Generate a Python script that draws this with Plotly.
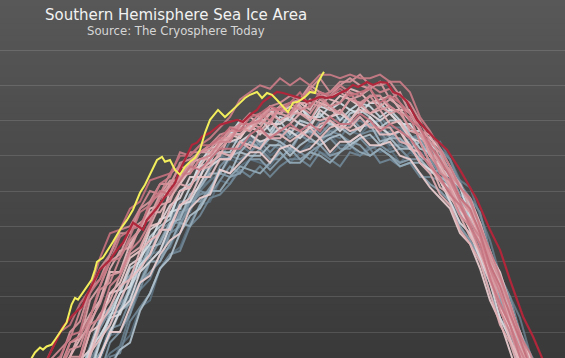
import plotly.graph_objects as go

# ---- data: Southern Hemisphere sea ice area (million km^2) ----
# common day grid (day of year, continuing past 365 into January)
DAYS = list(range(110, 380, 5))

a1979 = [3.2,3.5,4.0,4.7,4.8,5.5,5.8,6.3,7.2,7.9,8.0, 8.6,9.4,9.6,10.2,10.4,11.0,11.6,11.9,12.0, 12.5,12.9,12.8,13.1,13.3,13.0,13.2,13.3,13.1,13.4,13.4,13.6,13.3,13.3,13.5,13.5,13.6,13.2,13.3, 13.2,13.0,13.3, 13.1,12.9,12.1,11.8,11.1,10.2,9.7,8.8,7.9,7.4,6.6,6.0]
a1980 = [2.4,3.0,3.2,3.9,4.2,4.6,5.3,5.7,6.5,7.0,7.6, 7.9,8.7,8.9,9.8,10.2,10.4,11.1,11.6,11.7, 12.3,12.2,12.7,12.9,12.8,12.7,13.1,12.8,13.1,13.3,13.1,13.0,13.3,13.3,13.0,13.3,13.1,13.2,12.8, 13.1,12.9,13.2, 12.9,12.4,12.2,11.5,10.7,10.2,9.3,8.7,7.7,7.2,6.4,5.7]
a1981 = [3.6,4.0,4.3,5.0,5.5,5.7,6.3,6.9,7.3,8.2,8.7, 9.0,9.4,10.2,10.3,11.0,11.5,11.4,12.1,12.3, 12.5,13.0,13.3,13.1,13.4,13.3,13.2,13.6,13.6,13.4,13.4,13.7,13.8,13.7,13.6,13.9,13.4,13.6,13.4, 13.4,12.9,12.9, 12.4,12.2,11.6,11.3,10.4,9.7,9.0,8.0,7.4,6.8,5.9,5.3]
a1982 = [2.7,3.4,3.7,4.4,4.5,5.1,5.6,6.1,7.0,7.4,7.6, 8.5,9.2,9.5,10.2,10.4,11.2,11.7,12.0,12.3, 13.0,12.9,13.2,13.5,13.2,13.5,13.5,13.7,13.5,13.7,13.9,13.6,13.5,13.9,14.0,13.8,13.6,13.7,13.3, 13.5,13.6,13.3, 13.4,12.9,12.3,12.1,11.3,10.6,9.6,9.0,8.4,7.4,6.9,6.1]
a1983 = [3.8,4.5,4.6,5.2,5.7,6.0,6.7,7.2,7.7,8.5,8.8, 9.1,9.9,10.3,10.9,11.1,11.7,11.7,12.5,12.7, 12.9,13.4,13.4,13.3,13.7,13.8,13.6,13.7,14.0,13.6,14.0,13.9,14.1,13.9,14.1,13.8,14.1,13.8,13.8, 13.5,13.6,13.2, 12.9,12.7,12.3,11.5,11.0,10.3,9.2,8.8,7.9,7.4,6.4,5.8]
a1984 = [2.7,3.0,3.7,4.0,4.3,5.0,5.3,6.2,6.5,7.3,7.4, 8.3,8.7,9.1,9.8,10.2,10.3,11.0,11.3,11.8, 11.9,12.2,12.6,12.4,12.7,12.4,12.7,12.9,12.9,12.7,13.1,12.9,12.7,13.1,13.0,13.2,12.8,12.9,12.7, 12.8,12.4,12.4, 12.3,11.7,11.3,11.0,10.1,9.4,8.7,7.8,7.2,6.4,5.6,5.0]
a1985 = [3.2,3.8,4.3,4.6,5.3,5.6,5.8,6.8,7.3,8.1,8.2, 8.9,9.2,10.0,10.3,10.8,11.0,11.7,11.9,12.0, 12.7,13.0,12.9,13.1,13.4,13.1,13.4,13.1,13.6,13.4,13.4,13.7,13.6,13.4,13.6,13.7,13.7,13.3,13.3, 13.2,13.4,13.5, 13.2,12.9,12.2,11.8,11.4,10.3,9.6,9.0,8.0,7.4,6.8,6.0]
a1986 = [4.2,4.4,4.9,5.5,5.6,6.4,6.9,7.3,8.1,8.6,8.8, 9.6,10.0,10.1,10.6,11.1,11.1,11.5,12.0,11.9, 12.3,12.7,12.5,12.9,13.2,12.9,12.9,13.2,13.1,12.9,13.3,13.5,13.2,13.2,13.5,13.2,13.3,13.1,13.2, 12.9,12.9,12.9, 12.5,12.4,11.7,11.1,10.7,9.8,8.9,8.5,7.5,6.7,6.2,5.4]
a1987 = [3.0,3.6,3.8,4.6,4.8,5.2,5.8,6.6,6.8,7.7,8.0, 8.5,9.4,9.7,10.0,10.8,11.4,11.5,12.1,12.6, 13.1,13.0,13.3,13.6,13.3,13.6,13.8,13.5,13.7,13.9,13.6,13.9,13.8,14.1,13.8,13.9,14.0,13.5,13.7, 13.5,13.5,13.0, 13.0,12.5,11.9,11.6,10.9,9.9,9.4,8.6,7.9,7.0,6.4,5.8]
a1988 = [4.1,4.9,5.1,5.5,6.1,6.7,6.8,7.6,8.4,8.7,9.3, 9.6,9.8,10.5,10.9,10.9,11.3,11.7,11.7,12.1, 12.5,12.4,12.5,12.9,12.9,12.6,12.9,13.2,12.9,13.1,13.3,13.0,13.1,13.4,13.3,13.0,13.2,13.0,12.8, 12.9,12.5,12.2, 12.0,11.7,11.0,10.6,10.1,9.1,8.4,7.9,6.9,6.1,5.6,4.8]
a1989 = [3.5,3.9,4.2,5.0,5.2,5.5,6.2,7.0,7.4,7.9,8.6, 8.8,9.4,10.0,10.0,10.5,11.1,11.0,11.6,12.0, 12.0,12.4,12.7,12.6,12.5,12.8,13.1,12.8,12.8,13.1,13.0,12.8,13.1,13.3,13.1,13.0,13.2,13.0,12.7, 12.8,12.8,12.5, 12.6,12.0,11.6,11.3,10.5,9.6,9.0,8.2,7.3,6.8,6.0,5.3]
a1990 = [3.7,4.1,4.8,5.1,5.6,5.9,6.6,6.9,7.8,8.5,8.6, 9.3,9.7,10.4,10.5,11.1,11.2,11.9,12.1,12.5, 12.5,13.0,13.1,13.4,13.2,13.5,13.4,13.2,13.6,13.7,13.5,13.6,13.8,13.6,13.8,13.9,13.4,13.5,13.5, 13.2,13.4,13.0, 13.0,12.4,11.8,11.5,10.7,10.0,9.4,8.4,7.7,7.1,6.3,5.5]
a1991 = [2.4,2.7,3.2,3.9,4.0,4.7,5.0,5.9,6.2,7.0,7.5, 7.7,8.6,9.1,9.8,10.1,10.8,11.3,11.5,12.0, 12.6,12.5,13.1,13.0,13.0,13.3,13.3,13.0,13.3,13.5,13.3,13.5,13.6,13.3,13.5,13.6,13.3,13.5,13.2, 13.2,12.9,12.6, 12.4,12.2,11.4,11.0,10.5,9.6,8.7,8.2,7.3,6.7,5.8,5.2]
a1992 = [4.3,4.6,4.9,5.6,6.1,6.2,6.9,7.5,8.3,8.6,9.1, 9.8,10.0,10.7,11.0,11.2,12.0,12.2,12.4,13.0, 13.1,13.1,13.6,13.8,13.7,13.6,14.0,13.6,14.0,13.9,14.2,13.9,13.8,14.2,14.3,14.1,13.8,14.0,14.0, 13.6,13.2,13.1, 12.6,12.4,11.8,11.2,10.9,9.9,9.2,8.3,7.6,7.0,6.2,5.5]
a1993 = [3.5,4.2,4.7,5.0,5.3,6.1,6.3,6.8,7.7,8.4,8.5, 9.2,9.9,10.2,10.8,11.4,11.5,12.1,12.7,12.8, 13.4,13.7,13.6,13.8,14.1,13.7,14.1,14.0,14.4,14.1,14.1,14.4,14.0,14.3,14.5,14.4,14.1,14.3,14.0, 13.7,13.7,13.3, 13.1,12.5,12.2,11.6,10.9,10.3,9.4,8.6,8.0,7.2,6.4,5.8]
a1994 = [4.0,4.4,5.0,5.2,5.7,6.3,6.4,7.5,7.9,8.4,9.1, 9.3,10.1,10.5,11.2,11.3,12.0,12.1,12.8,13.2, 13.3,13.6,14.0,13.7,14.1,14.3,14.0,14.1,14.4,14.0,14.4,14.3,14.5,14.3,14.2,14.5,14.5,14.2,13.9, 13.9,13.5,13.4, 12.7,12.4,12.1,11.3,10.8,10.1,9.1,8.6,7.7,6.9,6.4,5.6]
a1995 = [3.4,4.1,4.2,4.9,5.2,5.5,6.3,6.9,7.3,8.0,8.6, 8.9,9.7,10.0,10.3,11.0,11.6,11.7,12.2,12.7, 12.9,12.9,13.4,13.6,13.4,13.5,13.8,13.7,13.5,13.8,13.8,14.0,13.7,14.0,13.7,14.1,13.8,13.6,13.7, 13.3,12.8,12.6, 12.3,11.7,11.1,10.8,10.1,9.4,8.4,7.8,7.1,6.2,5.6,4.9]
a1996 = [4.4,4.7,5.4,5.7,6.0,6.7,7.2,7.5,8.3,9.1,9.2, 9.9,10.1,10.9,11.1,11.6,11.8,12.4,12.4,13.0, 13.4,13.4,13.5,13.9,13.6,13.9,13.9,14.1,13.9,13.8,14.3,14.1,14.2,14.0,14.4,14.2,14.0,14.2,13.9, 13.5,13.4,12.8, 12.3,12.1,11.5,10.9,10.6,9.6,8.7,8.2,7.3,6.7,5.8,5.2]
a1997 = [3.1,3.8,4.1,4.8,4.9,5.5,6.1,6.5,7.3,8.0,8.0, 8.7,9.4,9.6,10.2,10.6,10.8,11.5,11.8,11.9, 12.6,12.5,12.8,13.1,13.1,12.8,13.2,13.3,13.1,13.2,13.5,13.1,13.4,13.4,13.6,13.3,13.3,13.4,13.0, 12.9,12.5,12.1, 11.8,11.5,10.8,10.5,9.8,8.9,8.3,7.5,6.6,6.1,5.3,4.6]
a1998 = [4.6,4.8,5.3,5.9,6.4,6.6,7.1,8.0,8.2,9.1,9.4, 10.1,10.3,11.0,11.1,12.0,12.2,12.6,12.7,13.1, 13.3,13.6,13.5,13.9,14.0,14.4,14.2,14.4,14.2,14.6,14.5,14.4,14.7,14.6,14.4,14.7,14.7,14.3,14.3, 14.3,13.7,13.5, 13.2,12.7,12.1,11.8,11.1,10.2,9.7,8.8,7.9,7.3,6.7,5.9]
a1999 = [3.8,4.4,4.5,5.4,5.6,6.2,6.4,7.4,7.8,8.2,8.9, 9.5,9.8,10.2,10.9,10.9,11.6,11.8,12.4,12.4, 12.9,12.9,13.4,13.3,13.2,13.6,13.6,13.4,13.6,13.8,13.5,13.8,13.9,13.7,13.8,14.0,13.6,13.6,13.7, 13.2,13.1,12.7, 12.3,11.8,11.5,10.9,10.2,9.6,8.7,8.1,7.1,6.5,5.9,5.1]
a2000 = [5.0,5.3,6.0,6.3,6.5,7.3,7.8,8.2,8.9,9.7,9.7, 10.5,10.9,11.5,11.6,12.2,12.2,12.8,12.9,13.0, 13.5,13.5,13.8,14.1,13.9,14.2,14.4,14.2,14.5,14.3,14.8,14.6,14.5,14.9,14.8,14.5,14.6,14.7,14.3, 14.0,13.8,13.0, 12.7,12.2,11.6,11.4,10.6,9.7,9.1,8.3,7.4,6.9,6.1,5.4]
a2001 = [4.0,4.8,5.0,5.6,5.8,6.6,6.8,7.3,8.2,8.7,9.3, 9.5,10.3,10.6,10.8,11.5,12.0,12.1,12.6,12.8, 13.0,13.6,13.6,13.8,13.7,14.0,13.7,13.9,14.2,14.1,14.0,14.1,14.3,14.0,14.3,14.2,14.3,13.9,14.0, 13.5,13.0,12.8, 12.1,11.9,11.3,10.7,10.3,9.4,8.7,7.8,7.1,6.5,5.7,5.0]
a2002 = [5.1,5.7,5.9,6.7,6.9,7.3,8.0,8.5,8.9,9.8,10.3, 10.4,11.0,11.4,11.4,11.8,12.2,12.1,12.6,12.7, 13.1,13.0,13.4,13.2,13.7,13.5,13.5,13.8,13.7,13.5,13.9,14.0,13.8,13.8,14.1,13.8,13.8,13.8,13.4, 13.3,12.8,12.5, 11.9,11.6,10.9,10.5,10.0,9.1,8.2,7.7,6.8,6.0,5.4,4.7]
a2003 = [4.6,5.0,5.6,5.8,6.3,7.0,7.1,8.0,8.5,8.9,9.6, 10.2,10.4,11.0,11.6,11.7,12.4,12.5,12.9,12.9, 13.3,13.6,13.6,13.9,13.8,14.2,14.2,14.1,14.5,14.5,14.4,14.7,14.8,14.6,14.7,14.9,14.4,14.6,14.4, 14.2,13.7,13.6, 12.9,12.6,12.2,11.5,11.1,10.2,9.3,8.8,7.9,7.1,6.6,5.8]
a2004 = [5.2,5.9,6.2,6.9,7.0,7.7,7.8,8.9,9.3,10.0,10.2, 10.9,11.1,11.3,11.9,12.3,12.3,12.7,13.1,13.1, 13.3,13.8,13.8,13.7,14.1,14.2,14.0,14.2,14.2,14.0,14.5,14.3,14.2,14.6,14.5,14.2,14.4,14.2,14.3, 13.7,13.6,13.1, 12.8,12.2,11.8,11.4,10.7,9.8,9.2,8.4,7.7,6.8,6.2,5.5]
a2005 = [4.8,5.5,5.6,6.3,6.6,7.3,7.3,8.3,8.8,9.6,9.7, 10.3,11.0,11.2,11.8,12.2,12.4,12.8,13.1,13.2, 13.5,13.5,13.9,13.9,14.0,14.4,14.2,14.5,14.6,15.0,14.8,14.7,15.0,15.2,15.0,14.9,15.1,14.6,14.8, 14.2,13.8,13.0, 12.6,12.1,11.5,11.2,10.5,9.8,8.8,8.2,7.5,6.7,5.9,5.3]
a2006 = [5.7,6.0,6.7,7.0,7.2,8.0,8.3,9.2,9.5,10.2,10.8, 10.8,11.5,11.7,12.2,12.2,12.7,12.6,13.1,13.2, 13.2,13.5,13.8,13.7,14.0,13.9,14.4,14.2,14.4,14.2,14.6,14.4,14.2,14.6,14.5,14.7,14.3,14.4,14.2, 13.8,13.6,13.3, 12.8,12.5,11.8,11.4,10.9,10.0,9.1,8.6,7.7,7.1,6.2,5.6]
a2007 = [4.9,5.7,5.9,6.3,6.9,7.5,7.6,8.4,9.2,9.4,10.1, 10.6,10.9,11.7,11.9,12.1,12.8,12.9,13.1,13.3, 13.6,13.7,13.9,14.2,14.1,14.4,14.5,14.7,14.6,14.9,15.2,14.8,15.1,15.1,15.3,15.0,15.0,15.1,14.7, 14.5,14.0,13.4, 13.1,12.5,12.1,11.7,11.0,10.1,9.5,8.7,8.0,7.1,6.5,5.8]
a2008 = [5.7,6.4,6.5,7.2,7.5,7.8,8.6,9.1,9.8,10.2,10.9, 11.0,11.5,12.0,11.9,12.5,12.7,13.1,13.1,13.3, 13.4,13.7,13.7,13.9,14.2,14.0,14.4,14.5,14.3,14.4,14.7,14.4,14.5,14.8,14.4,14.7,14.7,14.4,14.2, 14.1,13.4,12.8, 12.3,12.0,11.3,11.0,10.3,9.6,8.6,8.0,7.3,6.4,5.8,5.1]
a2009 = [4.8,5.1,5.4,6.1,6.6,6.8,7.3,8.2,8.4,9.3,9.6, 10.3,10.6,11.1,11.8,11.9,12.5,12.5,12.9,13.0, 13.4,13.4,13.9,13.9,14.0,14.3,14.3,14.2,14.6,14.9,14.7,14.8,15.0,14.8,14.7,15.0,14.8,14.9,14.5, 14.2,13.8,13.2, 12.5,12.3,11.7,11.1,10.7,9.8,9.1,8.2,7.5,6.9,6.1,5.4]
a2010 = [5.1,5.8,6.3,6.6,6.9,7.7,7.9,8.4,9.3,10.0,10.1, 10.7,11.4,11.6,12.2,12.4,13.1,13.0,13.3,13.5, 13.8,14.1,14.6,14.8,15.0,14.9,15.2,15.0,15.2,15.0,15.3,15.3,15.2,15.3,15.2,15.2,15.3,15.1,15.1, 14.8,14.1,13.7, 13.2,12.7,12.1,11.8,11.0,10.3,9.6,8.8,7.9,7.4,6.6,5.9]
a2011 = [5.6,6.0,6.3,7.1,7.3,7.9,8.0,9.1,9.5,10.0,10.7, 10.9,11.0,11.6,12.0,11.9,12.3,12.7,12.6,12.9, 13.2,13.2,13.2,13.6,13.8,13.5,13.7,13.9,13.7,13.9,13.7,14.1,13.9,13.9,14.2,14.0,13.7,13.9,13.7, 13.5,13.1,12.7, 12.4,11.9,11.6,11.0,10.5,9.5,8.8,8.2,7.3,6.5,6.0,5.2]
a2012 = [6.0,6.7,6.8,7.4,8.0,8.2,8.8,9.2,10.1,10.8,10.9, 11.5,11.7,12.3,12.4,12.5,13.0,13.0,13.3,13.3, 13.5,13.8,13.7,14.1,14.2,14.4,14.3,14.5,14.8,14.4,14.8,14.7,14.9,14.7,14.8,14.9,14.5,14.7,14.5, 14.0,13.8,13.3, 12.9,12.4,11.8,11.5,10.8,9.9,9.3,8.5,7.8,7.0,6.2,5.6]

# 2013 (red) and 2014 (yellow, partial year) traced more finely
days_2013 = [115,120,124,131.5,136.5,141,143.5,147.5,150,155,158.5,161.5,166.5,171.5,173.5,178.5,181.5,185,187.5,190,192.5,196,198.5,201,205,210,215,218.5,221.5,225,228.5,231.5,238.5,241.5,250,253.5,256,260,263.5,266.5,270,273.5,276.5,279,283.5,286.5,290,293.5,296.5,300,303.5,308.5,316.5,323.5,330,338.5,345,350,355,358.5,361.5,366.5,370,372.5,376]
area_2013 = [6.5,6.9,7.27,8.15,8.49,8.72,9.06,9.48,9.77,10.05,10.33,10.53,11.10,10.90,11.18,11.52,11.75,12.03,12.23,12.60,12.88,13.31,13.37,13.54,13.65,13.88,13.96,14.02,13.96,14.16,14.30,14.53,14.81,14.78,14.64,14.53,14.58,14.67,14.64,14.67,14.78,14.87,15.01,14.95,15.09,15.01,15.09,15.07,14.81,14.73,14.53,14.02,13.54,13.17,12.60,11.75,10.90,10.33,9.48,8.92,8.44,7.87,7.42,7.08,6.6]
days_2014 = [110,113,115.8,117.5,120,121.5,123.3,125.8,127.5,130.8,133.3,135.8,137.5,139,140.8,143.3,145.8,147.5,148.5,151.5,154,156.5,160,163.5,166.5,170,172.5,175,178.5,181,182.5,185,187.5,190,192.5,195,197.5,200,202.5,205,209,212.5,216.5,220,222.5,225,228.5,231,233.5,236,238.5,241.5,244,246.5,249,252.5,255,257.5,259,261,262]
area_2014 = [6.7,7.0,7.27,7.42,7.56,7.50,7.59,7.64,7.78,8.07,8.27,8.78,8.97,8.92,9.06,9.26,9.48,9.77,9.99,10.11,10.33,10.56,10.90,11.18,11.47,11.95,12.18,12.46,12.88,12.97,12.83,12.88,12.60,12.46,12.69,12.83,12.94,13.17,13.65,14.02,14.30,14.10,14.30,14.50,14.64,14.73,14.81,14.64,14.78,14.73,14.58,14.39,14.24,14.50,14.53,14.67,14.81,14.78,15.07,15.29,15.38]

YEARS = list(range(1979, 2013))
SERIES = [a1979, a1980, a1981, a1982, a1983, a1984, a1985, a1986, a1987, a1988,
          a1989, a1990, a1991, a1992, a1993, a1994, a1995, a1996, a1997, a1998,
          a1999, a2000, a2001, a2002, a2003, a2004, a2005, a2006, a2007, a2008,
          a2009, a2010, a2011, a2012]
GRID_VALUES = [8, 9, 10, 11, 12, 13, 14, 15, 16]

TITLE = "Southern Hemisphere Sea Ice Area"
SUBTITLE = "Source: The Cryosphere Today"

# ---- styling ----
W, H = 565, 358
RAMP = [(0.00, (84, 104, 118)), (0.28, (138, 162, 178)), (0.45, (214, 226, 232)),
        (0.56, (238, 204, 206)), (0.78, (219, 158, 164)), (1.00, (196, 112, 124))]


def ramp_color(t):
    for (t0, c0), (t1, c1) in zip(RAMP[:-1], RAMP[1:]):
        if t <= t1:
            f = (t - t0) / (t1 - t0) if t1 > t0 else 0
            c = [round(a + (b - a) * f) for a, b in zip(c0, c1)]
            return "rgb(%d,%d,%d)" % tuple(c)
    return "rgb(%d,%d,%d)" % RAMP[-1][1]


fig = go.Figure()
n_years = len(YEARS)
for i, (yr, s) in enumerate(zip(YEARS, SERIES)):
    n = min(len(DAYS), len(s))
    fig.add_trace(go.Scatter(
        x=DAYS[:n], y=s[:n], mode="lines", name=str(yr),
        line=dict(color=ramp_color(i / (n_years - 1)), width=2),
        opacity=0.92, hoverinfo="skip"))

fig.add_trace(go.Scatter(x=days_2013, y=area_2013, mode="lines", name="2013",
                         line=dict(color="#b0263a", width=2.2), hoverinfo="skip"))
fig.add_trace(go.Scatter(x=days_2014, y=area_2014, mode="lines", name="2014",
                         line=dict(color="#f3ee5c", width=2), hoverinfo="skip"))

# background vertical gradient
shapes = []
NB = 60
top_c, bot_c = (88, 88, 88), (57, 57, 57)
for k in range(NB):
    f = (k + 0.5) / NB
    c = [round(a + (b - a) * f) for a, b in zip(top_c, bot_c)]
    shapes.append(dict(type="rect", xref="paper", yref="paper",
                       x0=0, x1=1, y0=1 - (k + 1) / NB - 0.002, y1=1 - k / NB,
                       fillcolor="rgb(%d,%d,%d)" % tuple(c),
                       line=dict(width=0), layer="below"))

px_per_unit = 35.25
y_top = 16 + 50 / px_per_unit
y_bot = 16 - 308 / px_per_unit

fig.update_layout(
    width=W, height=H,
    margin=dict(l=0, r=0, t=0, b=0),
    paper_bgcolor="#484848", plot_bgcolor="rgba(0,0,0,0)",
    showlegend=False,
    shapes=shapes,
    xaxis=dict(range=[100, 382.5], showgrid=False, zeroline=False,
               showticklabels=False, showline=False, ticks=""),
    yaxis=dict(range=[y_bot, y_top], tickvals=GRID_VALUES, showgrid=True,
               gridcolor="rgba(255,255,255,0.13)", gridwidth=1,
               zeroline=False, showticklabels=False, showline=False, ticks=""),
    annotations=[
        dict(text=TITLE, x=176 / W, y=1 - 14.5 / H, xref="paper", yref="paper",
             xanchor="center", yanchor="middle", showarrow=False,
             font=dict(family="DejaVu Sans", size=15, color="#f2f2f2")),
        dict(text=SUBTITLE, x=176 / W, y=1 - 31 / H, xref="paper", yref="paper",
             xanchor="center", yanchor="middle", showarrow=False,
             font=dict(family="DejaVu Sans", size=11.7, color="#d6d6d6")),
    ],
)

fig.write_html(
    "out.html",
    config={"displayModeBar": False},
    post_script="document.body.style.margin='0';document.body.style.padding='0';"
                "document.body.style.overflow='hidden';"
                "document.documentElement.style.background='#484848';",
)
